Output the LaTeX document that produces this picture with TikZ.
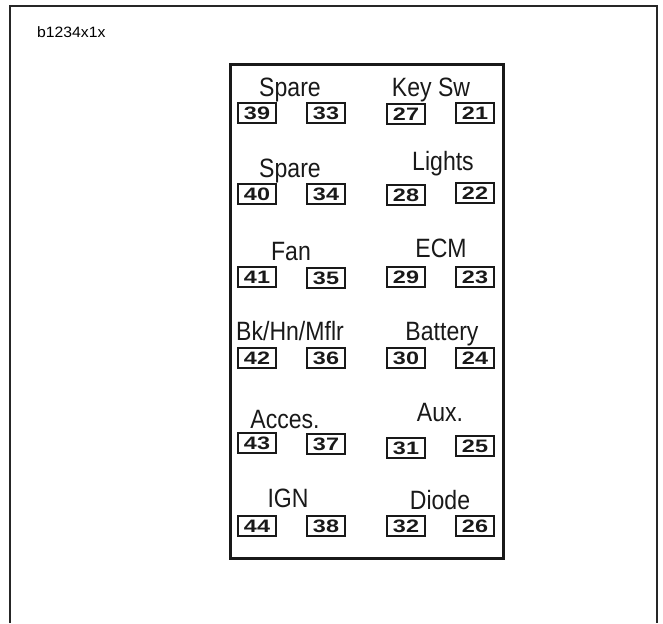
\documentclass[tikz,border=0pt]{standalone}
\usepackage{fontspec}
\setmainfont{Liberation Sans}
\newfontfamily\labfont{Liberation Sans}[FakeStretch=0.87]
\newfontfamily\numfont{Liberation Sans}[FakeStretch=1.3]
\newfontfamily\tagfont{Liberation Sans}[FakeStretch=1.05]
\begin{document}
\begin{tikzpicture}[x=1pt,y=-1pt,
  fuse/.style={draw=black!90, line width=2.3pt, minimum width=38.5pt, minimum height=20pt, inner sep=0pt,
    font=\numfont\bfseries\fontsize{18}{20}\selectfont, text=black!90},
  lab/.style={anchor=base, inner sep=0pt, font=\labfont\fontsize{26.5}{30}\selectfont, text=black!90},
  tag/.style={anchor=base west, inner sep=0pt, font=\tagfont\fontsize{15}{17}\selectfont}]
\useasboundingbox (0,0) rectangle (663,623);
% outer frame (open at bottom, cut by page)
\draw[line width=1.5pt, black!85] (10,623) -- (10,6) -- (657,6) -- (657,623);
\node[tag] (tagtext) at (37,38) {b1234x1x};
% inner panel
\node[draw=black!90, line width=3pt, minimum width=273pt, minimum height=493pt, inner sep=0pt] (panel) at (366.5,311.5) {};
% row 1
\node[lab] (l1) at (290,96) {Spare};
\node[lab] (r1) at (431,96) {Key Sw};
\node[fuse] (f39) at (257,113) {39};
\node[fuse] (f33) at (326,113) {33};
\node[fuse] (f27) at (406,114) {27};
\node[fuse] (f21) at (475,113) {21};
% row 2
\node[lab] (l2) at (290,177) {Spare};
\node[lab] (r2) at (443,170) {Lights};
\node[fuse] (f40) at (257,194) {40};
\node[fuse] (f34) at (326,194) {34};
\node[fuse] (f28) at (406,195) {28};
\node[fuse] (f22) at (475,193) {22};
% row 3
\node[lab] (l3) at (291,260) {Fan};
\node[lab] (r3) at (441,257) {ECM};
\node[fuse] (f41) at (257,277) {41};
\node[fuse] (f35) at (326,278) {35};
\node[fuse] (f29) at (406,277) {29};
\node[fuse] (f23) at (475,277) {23};
% row 4
\node[lab] (l4) at (290,340) {Bk/Hn/Mflr};
\node[lab] (r4) at (442,340) {Battery};
\node[fuse] (f42) at (257,358) {42};
\node[fuse] (f36) at (326,358) {36};
\node[fuse] (f30) at (406,358) {30};
\node[fuse] (f24) at (475,358) {24};
% row 5
\node[lab] (l5) at (285,428) {Acces.};
\node[lab] (r5) at (440,421) {Aux.};
\node[fuse] (f43) at (257,443) {43};
\node[fuse] (f37) at (326,444) {37};
\node[fuse] (f31) at (406,448) {31};
\node[fuse] (f25) at (475,446) {25};
% row 6
\node[lab] (l6) at (288,507) {IGN};
\node[lab] (r6) at (440,509) {Diode};
\node[fuse] (f44) at (257,526) {44};
\node[fuse] (f38) at (326,526) {38};
\node[fuse] (f32) at (406,526) {32};
\node[fuse] (f26) at (475,526) {26};
\end{tikzpicture}
\end{document}
